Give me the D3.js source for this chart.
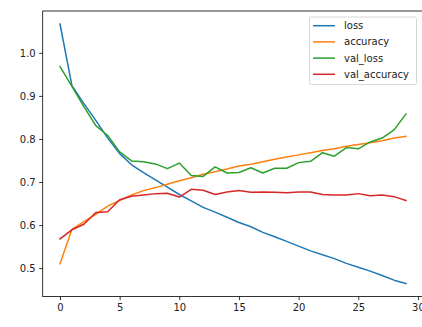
<!DOCTYPE html>
<html><head><meta charset="utf-8">
<script src="https://cdn.jsdelivr.net/npm/d3@7"></script>
<style>html,body{margin:0;padding:0;background:#fff;}svg{display:block;font-family:"DejaVu Sans",sans-serif;}</style>
</head><body>
<svg id="c" width="422" height="327"></svg>
<script>
const epochs = d3.range(30);
const loss = [1.067,0.924,0.882,0.843,0.802,0.766,0.740,0.722,0.705,0.688,0.671,0.656,0.641,0.630,0.618,0.606,0.596,0.583,0.573,0.562,0.551,0.540,0.531,0.522,0.511,0.502,0.493,0.483,0.472,0.464];
const accuracy = [0.510,0.590,0.608,0.625,0.644,0.657,0.670,0.680,0.687,0.695,0.703,0.710,0.718,0.724,0.730,0.737,0.741,0.747,0.753,0.758,0.763,0.768,0.773,0.777,0.783,0.787,0.791,0.796,0.802,0.806];
const val_loss = [0.968,0.922,0.875,0.831,0.808,0.770,0.749,0.747,0.742,0.731,0.744,0.715,0.713,0.735,0.721,0.722,0.733,0.721,0.732,0.732,0.745,0.748,0.768,0.760,0.780,0.777,0.793,0.802,0.821,0.858];
const val_accuracy = [0.568,0.589,0.602,0.629,0.631,0.659,0.667,0.670,0.673,0.674,0.665,0.683,0.681,0.671,0.677,0.680,0.676,0.677,0.676,0.675,0.677,0.677,0.671,0.670,0.670,0.673,0.668,0.670,0.666,0.657];
const seriesNames = ["loss","accuracy","val_loss","val_accuracy"];
const seriesColors = ["#1f77b4","#ff7f0e","#2ca02c","#d62728"];
const xTicks = [0,5,10,15,20,25,30];
const yTicks = [0.5,0.6,0.7,0.8,0.9,1.0];

const series = [loss, accuracy, val_loss, val_accuracy];
const svg = d3.select("#c");
const L = 42.7, R = 423.3, T = 11, B = 296.6;

const allV = series.flat();
const ymin = d3.min(allV), ymax = d3.max(allV), pad = (ymax-ymin)*0.05;
const x = d3.scaleLinear().domain([-1.45, 30.45]).range([L, R]);
const y = d3.scaleLinear().domain([ymin-pad, ymax+pad]).range([B, T]);

const line = d3.line().x((d,i)=>x(epochs[i])).y(d=>y(d));
series.forEach((s,k)=>{
  svg.append("path").datum(s).attr("d", line).attr("fill","none")
    .attr("stroke", seriesColors[k]).attr("stroke-width",1.5)
    .attr("stroke-linejoin","round").attr("stroke-linecap","square");
});

// axes
const xAxis = d3.axisBottom(x).tickValues(xTicks).tickFormat(d3.format("d")).tickSizeInner(3.5).tickSizeOuter(0).tickPadding(3.5);
const yAxis = d3.axisLeft(y).tickValues(yTicks).tickFormat(d3.format(".1f")).tickSizeInner(3.5).tickSizeOuter(0).tickPadding(3.5);
const gx = svg.append("g").attr("transform",`translate(0,${B})`).call(xAxis);
const gy = svg.append("g").attr("transform",`translate(${L},0)`).call(yAxis);
[gx,gy].forEach(g=>{
  g.select(".domain").remove();
  g.selectAll(".tick line").attr("stroke","#000").attr("stroke-width",0.8);
  g.selectAll(".tick text").attr("fill","#222").style("font-size","10px").style("font-family","'DejaVu Sans'");
});

// spines
svg.append("rect").attr("x",L).attr("y",T).attr("width",R-L).attr("height",B-T)
  .attr("fill","none").attr("stroke","#000").attr("stroke-width",0.8);

// legend
const lg = svg.append("g");
lg.append("rect").attr("x",309.5).attr("y",17).attr("width",107).attr("height",67.5).attr("rx",2)
  .attr("fill","#fff").attr("fill-opacity",0.8).attr("stroke","#ccc").attr("stroke-width",0.8);
seriesNames.forEach((n,k)=>{
  const cy = 25.7 + k*16.2;
  lg.append("line").attr("x1",313).attr("x2",335).attr("y1",cy).attr("y2",cy)
    .attr("stroke",seriesColors[k]).attr("stroke-width",1.5);
  lg.append("text").attr("x",344).attr("y",cy).attr("dy","0.35em").attr("fill","#222")
    .style("font-size","10px").text(n);
});
</script>
</body></html>
